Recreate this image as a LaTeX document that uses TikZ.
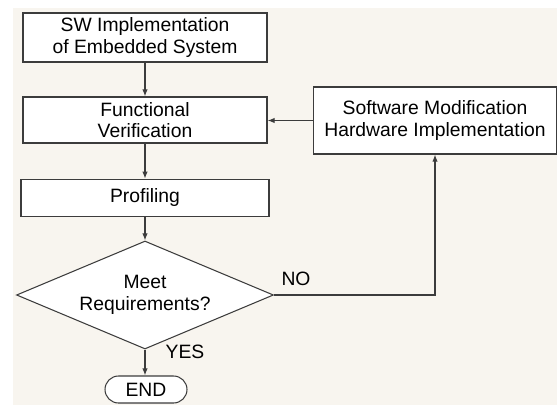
\documentclass[tikz,border=0pt]{standalone}
\usepackage{fontspec}
\setmainfont{Liberation Sans}
\usepackage{tikz}
\usetikzlibrary{arrows.meta,shapes.geometric,backgrounds}
\definecolor{paper}{HTML}{F8F5EF}
\definecolor{edge}{HTML}{3C3C3C}
\tikzset{
  flowbox/.style={draw=edge, fill=white, line width=0.6pt, align=center, inner sep=0pt,
    font=\fontsize{11}{12.4}\selectfont},
  decision/.style={flowbox, diamond, aspect=2.38},
  terminal/.style={flowbox, rounded corners=0.27cm},
  flowarrow/.style={draw=edge, line width=0.6pt, -{Latex[length=4pt,width=3pt]}},
  answer/.style={font=\fontsize{11}{12.4}\selectfont, inner sep=0pt}
}
\begin{document}
\begin{tikzpicture}[x=0.02cm,y=-0.02cm]
\useasboundingbox (0,0) rectangle (557,405);
\fill[white] (0,0) rectangle (557,405);
\fill[paper] (13,8) rectangle (557,405);

\node[flowbox, minimum width=4.88cm, minimum height=0.98cm] (sw) at (145,37.5)
  {SW Implementation\\of Embedded System};
\node[flowbox, minimum width=4.88cm, minimum height=0.92cm] (fv) at (145,120)
  {Functional\\Verification};
\node[flowbox, minimum width=4.96cm, minimum height=0.75cm] (prof) at (145,198)
  {Profiling};
\node[decision, minimum width=5.14cm, minimum height=2.16cm] (meet) at (145,295)
  {Meet\\Requirements?};
\node[terminal, minimum width=1.64cm, minimum height=0.54cm] (end) at (146,389.5)
  {END};
\node[flowbox, minimum width=4.88cm, minimum height=1.34cm] (mod) at (435,120.5)
  {Software Modification\\Hardware Implementation};

\node[answer] (no) at (296,279) {NO};
\node[answer] (yes) at (185,352) {YES};

\draw[flowarrow] (sw) -- (fv);
\draw[flowarrow] (fv) -- (prof);
\draw[flowarrow] (prof) -- (meet);
\draw[flowarrow] (meet.south) -- (meet.south |- end.north);
\draw[flowarrow] (meet.east) -| (mod.south);
\draw[flowarrow] (mod.west) -- (fv.east |- mod.west);
\end{tikzpicture}
\end{document}
